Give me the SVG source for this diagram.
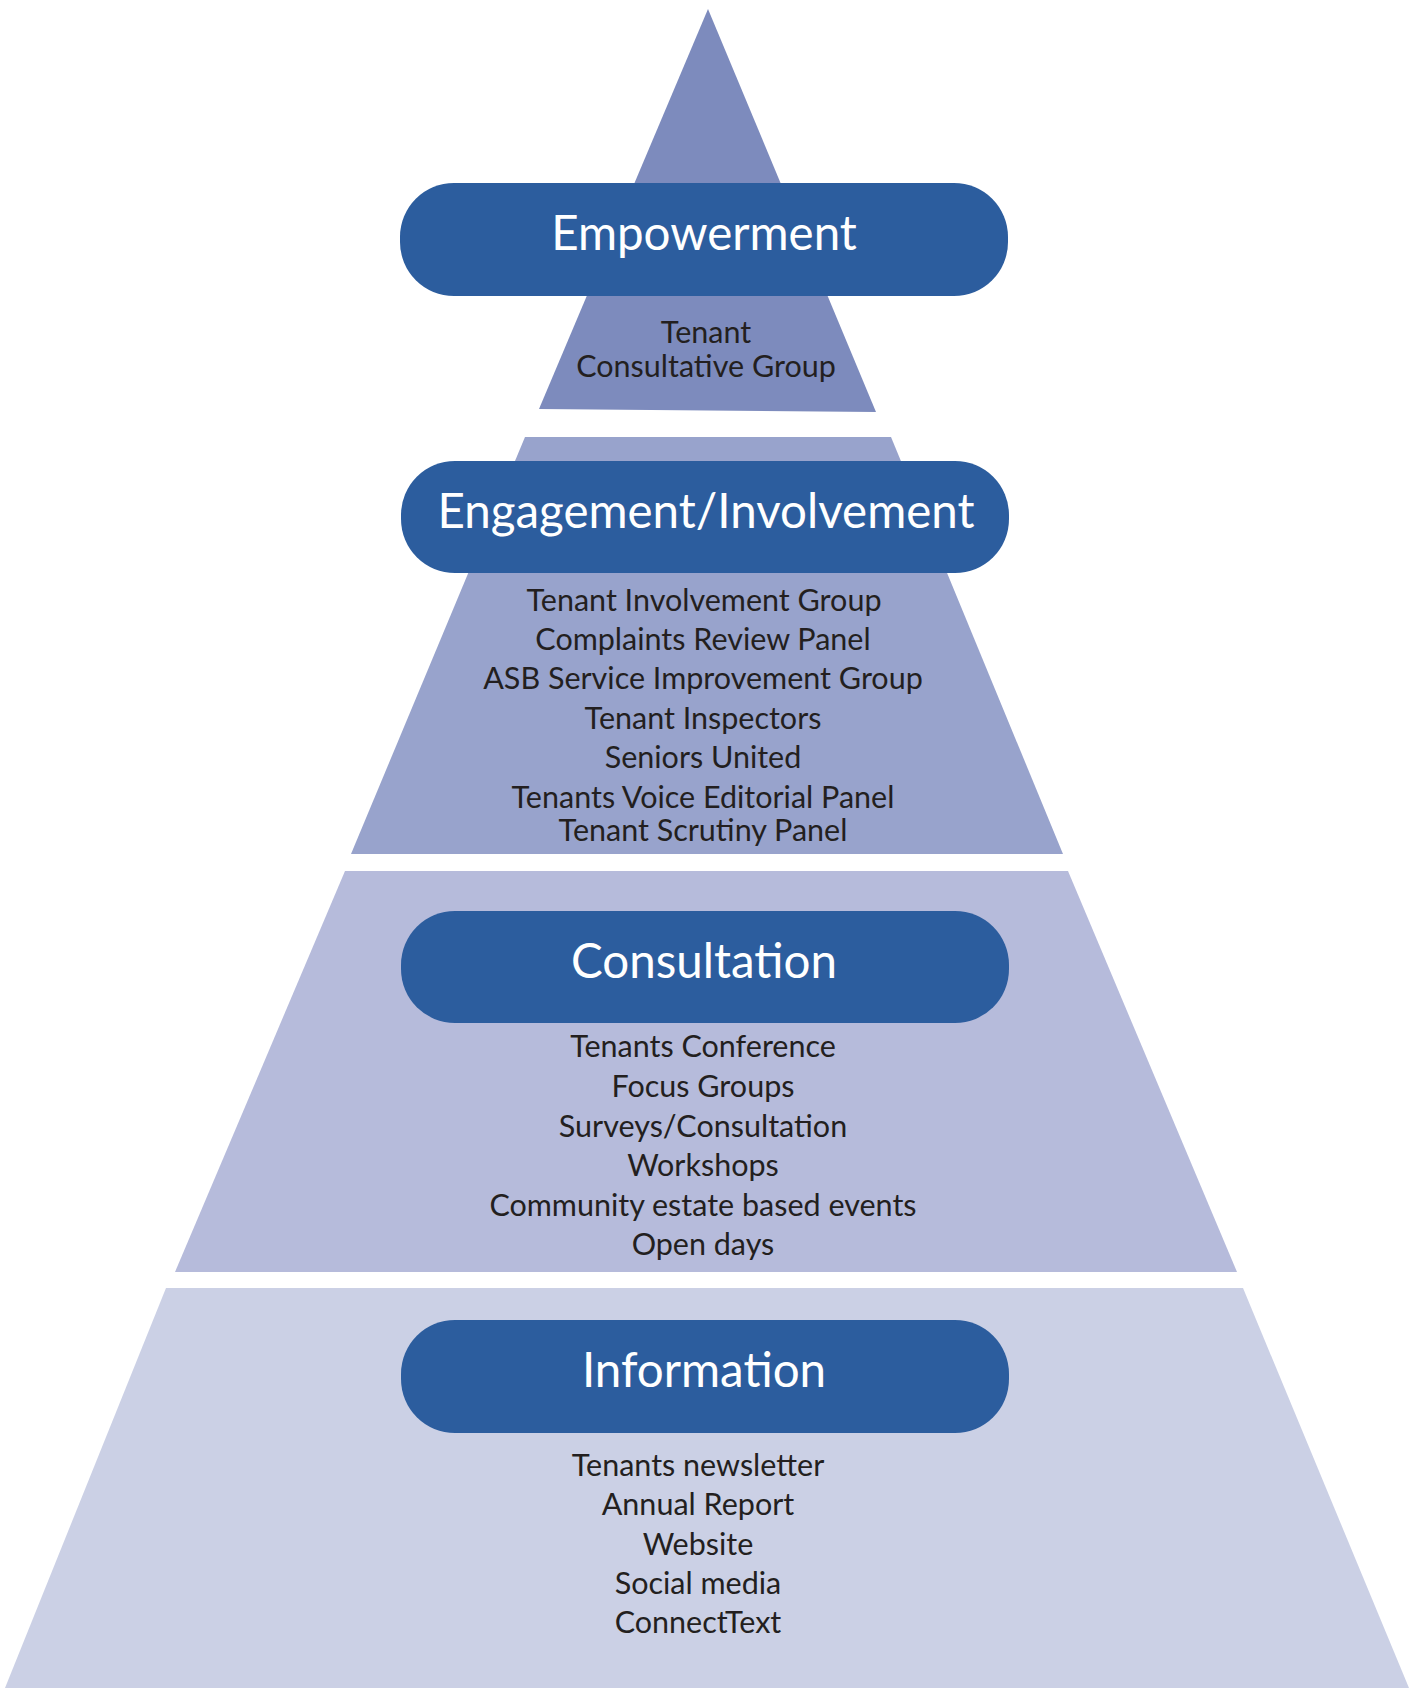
<svg xmlns="http://www.w3.org/2000/svg" width="1419" height="1688" viewBox="0 0 1419 1688">
  <style>
    .pill { fill: #2c5d9e; }
    .title { font-family: Lato, "Open Sans", "Liberation Sans", sans-serif; font-size: 47.5px; fill: #ffffff; text-anchor: middle; }
    .item { font-family: Lato, "Open Sans", "Liberation Sans", sans-serif; font-size: 30.5px; fill: #231f20; text-anchor: middle; }
  </style>
  <rect width="1419" height="1688" fill="#ffffff"/>

  <!-- Tier 1: Empowerment (apex) -->
  <g id="tier-empowerment">
    <polygon points="708,9 539,409 876,412" fill="#7d8bbd"/>
    <rect class="pill" x="400" y="183" width="608" height="113" rx="54" ry="54"/>
    <text class="title" x="704" y="250">Empowerment</text>
    <text class="item" x="706" y="343">Tenant</text>
    <text class="item" x="706" y="377">Consultative Group</text>
  </g>

  <!-- Tier 2: Engagement/Involvement -->
  <g id="tier-engagement">
    <polygon points="525,437 891,437 1063,854 351,854" fill="#98a3cc"/>
    <rect class="pill" x="401" y="461" width="608" height="112" rx="54" ry="54"/>
    <text class="title" x="706" y="528">Engagement/Involvement</text>
    <text class="item" x="704" y="611">Tenant Involvement Group</text>
    <text class="item" x="703" y="650">Complaints Review Panel</text>
    <text class="item" x="703" y="689">ASB Service Improvement Group</text>
    <text class="item" x="703" y="729">Tenant Inspectors</text>
    <text class="item" x="703" y="768">Seniors United</text>
    <text class="item" x="703" y="808">Tenants Voice Editorial Panel</text>
    <text class="item" x="703" y="841">Tenant Scrutiny Panel</text>
  </g>

  <!-- Tier 3: Consultation -->
  <g id="tier-consultation">
    <polygon points="345,871 1068,871 1237,1272 175,1272" fill="#b6bbdb"/>
    <rect class="pill" x="401" y="911" width="608" height="112" rx="54" ry="54"/>
    <text class="title" x="704" y="978">Consultation</text>
    <text class="item" x="703" y="1057">Tenants Conference</text>
    <text class="item" x="703" y="1097">Focus Groups</text>
    <text class="item" x="703" y="1137">Surveys/Consultation</text>
    <text class="item" x="703" y="1176">Workshops</text>
    <text class="item" x="703" y="1216">Community estate based events</text>
    <text class="item" x="703" y="1255">Open days</text>
  </g>

  <!-- Tier 4: Information (base) -->
  <g id="tier-information">
    <polygon points="166,1288 1243,1288 1409,1688 5,1688" fill="#cbd0e5"/>
    <rect class="pill" x="401" y="1320" width="608" height="113" rx="54" ry="54"/>
    <text class="title" x="704" y="1387">Information</text>
    <text class="item" x="698" y="1476">Tenants newsletter</text>
    <text class="item" x="698" y="1515">Annual Report</text>
    <text class="item" x="698" y="1555">Website</text>
    <text class="item" x="698" y="1594">Social media</text>
    <text class="item" x="698" y="1633">ConnectText</text>
  </g>
</svg>
